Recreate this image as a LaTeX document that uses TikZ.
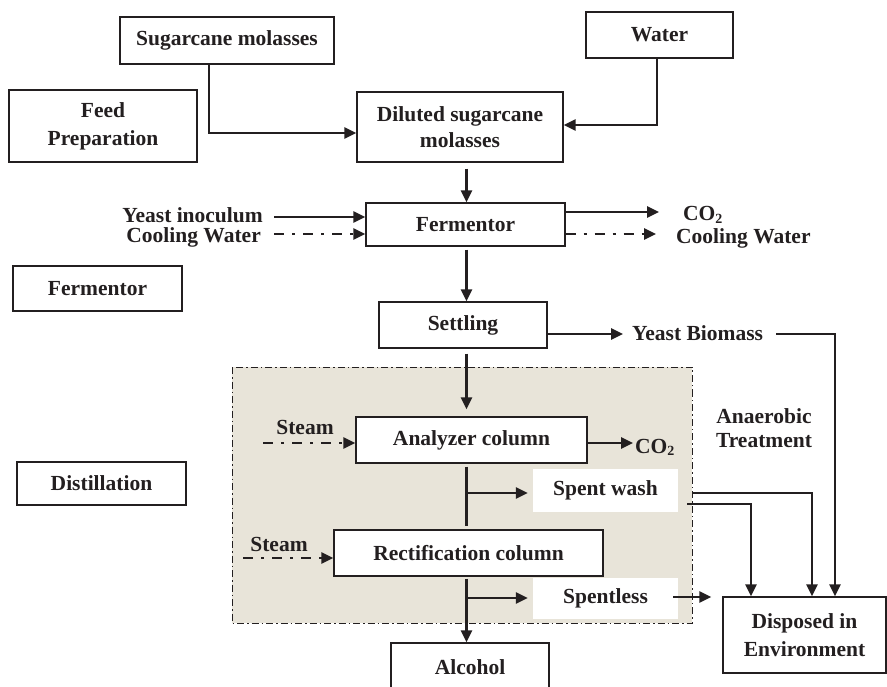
\documentclass[tikz,border=0pt]{standalone}
\usepackage{fontspec}
\setmainfont{Liberation Serif}
\usetikzlibrary{arrows.meta}
\definecolor{ink}{RGB}{35,31,32}
\definecolor{shadebg}{RGB}{232,228,217}
\newcommand{\subtwo}{\raisebox{-0.28ex}{\fontsize{14}{14}\selectfont 2}}
\begin{document}
\begin{tikzpicture}[x=1pt,y=-1pt,
  box/.style={draw=ink,line width=1.3pt,fill=white,align=center,inner sep=0pt,text=ink,
    font=\bfseries\fontsize{21.5}{27}\selectfont},
  wbox/.style={fill=white,align=center,inner sep=0pt,text=ink,
    font=\bfseries\fontsize{21.5}{27}\selectfont},
  lbl/.style={inner sep=0pt,align=center,text=ink,font=\bfseries\fontsize{21.5}{24}\selectfont},
  arr/.style={draw=ink,line width=2.6pt,-{Triangle[length=12pt,width=11pt]}},
  ln/.style={draw=ink,line width=2.6pt},
  dd/.style={draw=ink,line width=2.6pt,dash pattern=on 10pt off 8pt on 3pt off 8pt,
    -{Triangle[length=12pt,width=11pt]}}]
\useasboundingbox (0,0) rectangle (887,687);

% distillation region
\draw[draw=ink,fill=shadebg,line width=0.9pt,dash pattern=on 7pt off 3pt on 1.5pt off 3pt]
  (232,367) rectangle (692,623);

% boxes
\node[box,minimum width=214pt,minimum height=47pt] (sug) at (227,40.5) {Sugarcane molasses};
\node[box,minimum width=188pt,minimum height=72pt,font=\bfseries\fontsize{21.5}{28}\selectfont] (feed) at (103,126) {Feed\\Preparation};
\node[box,minimum width=206pt,minimum height=70pt,font=\bfseries\fontsize{21.5}{26}\selectfont] (dil) at (460,127) {Diluted sugarcane\\molasses};
\node[box,minimum width=147pt,minimum height=46pt] (water) at (659.5,35) {Water};
\node[box,minimum width=199pt,minimum height=43pt] (ferm) at (465.5,224.5) {Fermentor};
\node[box,minimum width=169pt,minimum height=45pt] (fermL) at (97.5,288.5) {Fermentor};
\node[box,minimum width=168pt,minimum height=46pt] (settle) at (463,325) {Settling};
\node[box,minimum width=231pt,minimum height=46pt] (anal) at (471.5,440) {Analyzer column};
\node[box,minimum width=269pt,minimum height=46pt] (rect) at (468.5,553) {Rectification column};
\node[box,minimum width=158pt,minimum height=48pt] (alc) at (470,667) {Alcohol};
\node[box,minimum width=169pt,minimum height=43pt] (dist) at (101.5,483.5) {Distillation};
\node[box,minimum width=163pt,minimum height=76pt,font=\bfseries\fontsize{21.5}{28}\selectfont] (disp) at (804.5,635) {Disposed in\\Environment};
\node[wbox,minimum width=145pt,minimum height=43pt] (sw) at (605.5,490.5) {Spent wash};
\node[wbox,minimum width=145pt,minimum height=41pt] (sl) at (605.5,598.5) {Spentless};

% free labels
\node[lbl,anchor=base east] (yeast) at (263,223) {Yeast inoculum};
\node[lbl,anchor=base east] (cw1) at (261,243) {Cooling Water};
\node[lbl,anchor=base west] (co2a) at (683,221) {CO\subtwo};
\node[lbl,anchor=base west] (cw2) at (676,244) {Cooling Water};
\node[lbl,anchor=base west] (ybm) at (632,341) {Yeast Biomass};
\node[lbl,anchor=base] (st1) at (305,434) {Steam};
\node[lbl,anchor=base] (st2) at (279,551) {Steam};
\node[lbl,anchor=base west] (co2b) at (635,453) {CO\subtwo};
\node[lbl,anchor=base] (anaer) at (764,447) {Anaerobic\\Treatment};

% coordinates for free ends
\coordinate (cx) at (466.5,0);
\coordinate (yi) at (274,217);
\coordinate (cwi) at (274,234);
\coordinate (co2e) at (659,212);
\coordinate (cwe) at (656,234);
\coordinate (ybe) at (623,334);
\coordinate (ybs) at (776,334);
\coordinate (s1) at (263,443);
\coordinate (s2) at (243,558);
\coordinate (co2f) at (633,443);
\coordinate (b1) at (466.5,493);
\coordinate (b2) at (466.5,598);
\coordinate (w1) at (692,493);
\coordinate (w2) at (687,504);
\coordinate (w3) at (673,597);

% connectors
\draw[arr] ([xshift=-18pt]sug.south) |- ([yshift=-6pt]dil.west);
\draw[arr] ([xshift=-2.5pt]water.south) |- ([yshift=2pt]dil.east);
\draw[arr,shorten <=6pt] (dil.south -| cx) -- (ferm.north -| cx);
\draw[arr] (yi) -- (yi -| ferm.west);
\draw[dd] (cwi) -- (cwi -| ferm.west);
\draw[arr] (co2e -| ferm.east) -- (co2e);
\draw[dd] (cwe -| ferm.east) -- (cwe);
\draw[arr,shorten <=3pt] (ferm.south -| cx) -- (settle.north -| cx);
\draw[arr] (ybe -| settle.east) -- (ybe);
\draw[arr] (ybs) -| ([xshift=30.5pt]disp.north);
\draw[arr,shorten <=5pt,shorten >=7pt] (settle.south -| cx) -- (anal.north -| cx);
\draw[dd] (s1) -- (s1 -| anal.west);
\draw[arr] (co2f -| anal.east) -- (co2f);
\draw[ln,shorten <=3pt,shorten >=3pt] (anal.south -| cx) -- (rect.north -| cx);
\draw[arr,shorten >=5pt] (b1) -- (b1 -| sw.west);
\draw[dd] (s2) -- (s2 -| rect.west);
\draw[arr,shorten <=2pt] (rect.south -| cx) -- (alc.north -| cx);
\draw[arr,shorten >=5pt] (b2) -- (b2 -| sl.west);
\draw[arr] (w1) -| ([xshift=7.5pt]disp.north);
\draw[arr] (w2) -| ([xshift=-53.5pt]disp.north);
\draw[arr,shorten >=11pt] (w3) -- (w3 -| disp.west);
\end{tikzpicture}
\end{document}
